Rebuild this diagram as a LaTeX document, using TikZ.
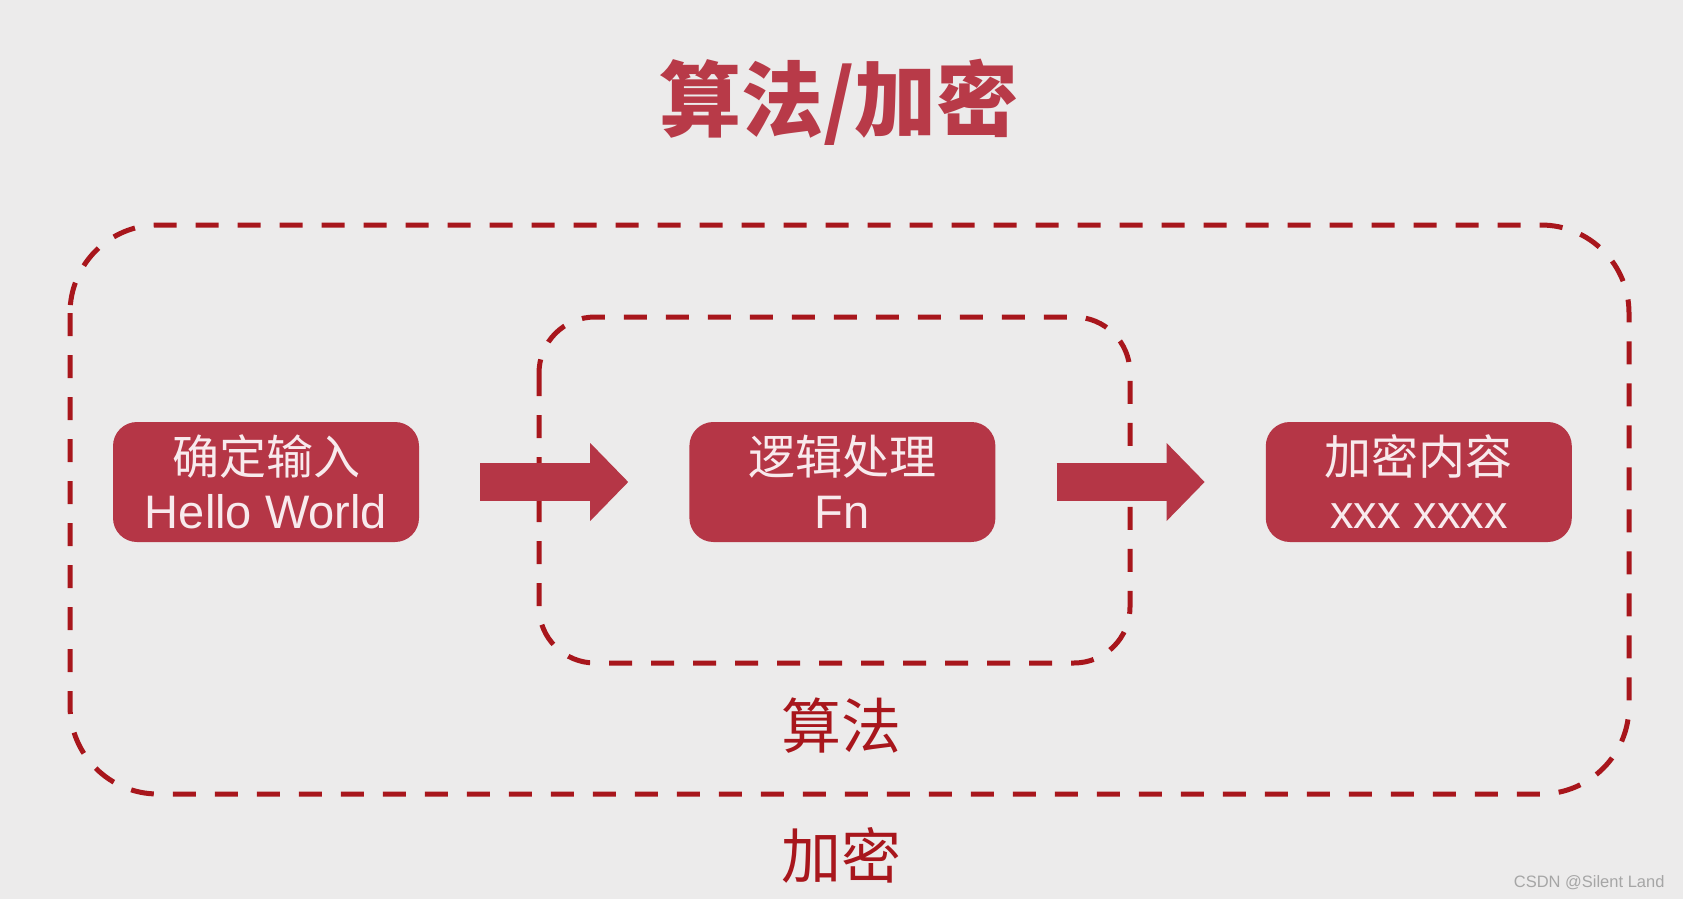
\documentclass[tikz,border=0pt]{standalone}
\usepackage{fontspec}
\setmainfont{Liberation Sans}
\newfontfamily\cjk{Noto Sans CJK SC}
\usepackage{xcolor}
\definecolor{bgrey}{RGB}{236,235,235}
\definecolor{boxred}{RGB}{181,54,70}
\definecolor{titlered}{RGB}{184,58,72}
\definecolor{dashred}{RGB}{168,22,28}
\definecolor{boxtext}{RGB}{248,234,237}
\usepackage{tikz}
\usetikzlibrary{arrows.meta,positioning,calc}

\begin{document}
\begin{tikzpicture}[x=1pt, y=-1pt,
    stepbox/.style={rectangle, rounded corners=24pt,
                 fill=boxred, minimum width=306pt, minimum height=120pt,
                 align=center, text=boxtext, inner sep=0pt,
                 font=\fontsize{47}{54}\selectfont},
    dashbox/.style={draw=dashred, line width=5pt, dash pattern=on 23pt off 19pt},
    blockarr/.style={boxred, line width=38pt,
                 -{Triangle[length=38pt, width=78pt, line width=0pt]},
                 shorten <=61pt, shorten >=61pt},
    grouplbl/.style={text=dashred, font=\cjk\fontsize{60}{60}\selectfont}
  ]
    \useasboundingbox (0,0) rectangle (1683,899);
    \fill[bgrey] (0,0) rectangle (1683,899);
    % title
    \node[text=titlered, font=\cjk\bfseries\fontsize{82}{82}\selectfont] (title) at (839,102) {算法/加密};
    % outer and inner groups
    \draw[dashbox, rounded corners=88pt] (70,225) rectangle (1629,794);
    \draw[dashbox, rounded corners=56pt] (539,317) rectangle (1130,663);
    % steps
    \node[stepbox] (in) at (266,482) {{\cjk 确定输入}\\Hello World};
    \node[stepbox, right=270pt of in] (fn) {{\cjk 逻辑处理}\\Fn};
    \node[stepbox, right=270pt of fn] (out) {{\cjk 加密内容}\\xxx xxxx};
    \draw[blockarr] (in) -- (fn);
    \draw[blockarr] (fn) -- (out);
    % group labels
    \node[grouplbl] (algo) at (841,726) {算法};
    \node[grouplbl] (enc) at (841,855) {加密};
    \node[anchor=east, text=black!35, font=\fontsize{16.5}{16.5}\selectfont] (mark) at (1668,883) {CSDN @Silent Land};
  \end{tikzpicture}
\end{document}
